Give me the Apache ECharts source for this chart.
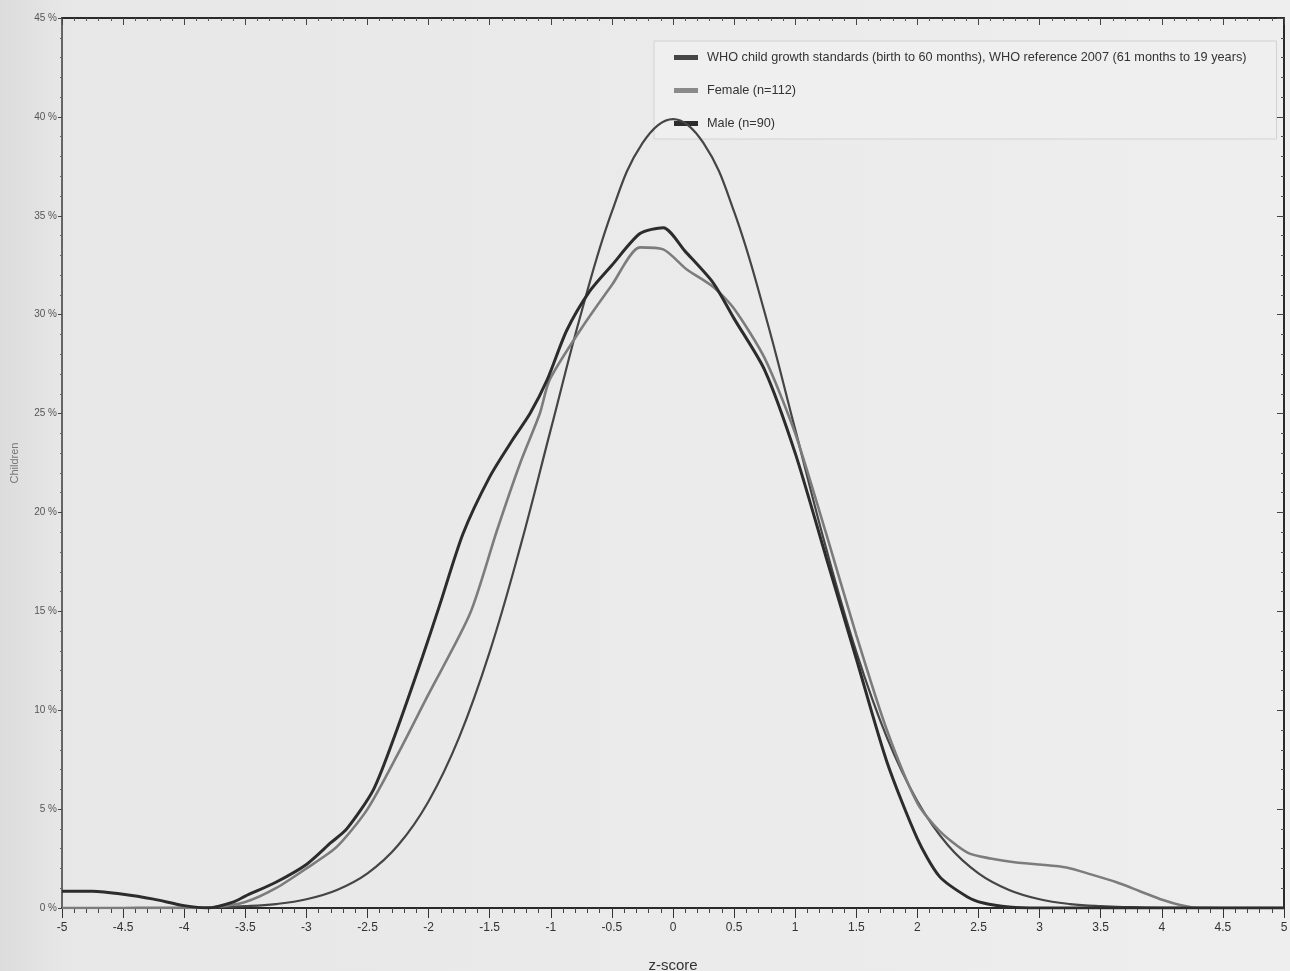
<!DOCTYPE html>
<html>
<head>
<meta charset="utf-8">
<script src="https://cdn.jsdelivr.net/npm/echarts@6/dist/echarts.min.js"></script>
<style>
  html, body { margin: 0; padding: 0; background: #e9e9e9; }
  #chart { width: 1290px; height: 971px; }
</style>
</head>
<body>
<div id="chart"></div>
<script>
// WHO reference curve, z-score -> % of children
const whoZ = [-5, -4.75, -4.5, -4.25, -4, -3.75, -3.5, -3.25, -3, -2.75, -2.5, -2.25, -2, -1.75, -1.5, -1.25, -1, -0.75, -0.5, -0.25,
    0, 0.25, 0.5, 0.75, 1, 1.25, 1.5, 1.75, 2, 2.25, 2.5, 2.75, 3, 3.25, 3.5, 3.75, 4, 4.25, 4.5, 4.75, 5]
const whoValues = [0, 0, 0, 0.01, 0.01, 0.04, 0.09, 0.2, 0.44, 0.91, 1.75, 3.17, 5.4, 8.63, 12.95, 18.26, 24.2, 30.11, 35.21, 38.67,
    39.89, 38.67, 35.21, 30.11, 24.2, 18.26, 12.95, 8.63, 5.4, 3.17, 1.75, 0.91, 0.44, 0.2, 0.09, 0.04, 0.01, 0.01, 0, 0, 0]

// Female (n=112)
const femaleZ = [-5, -4, -3.75, -3.5, -3.25, -3, -2.75, -2.5, -2.25, -2.01, -1.66, -1.44, -1.25, -1.09, -1.01, -0.75, -0.5, -0.27, -0.08, 0.11,
    0.33, 0.5, 0.75, 1, 1.25, 1.5, 1.75, 2, 2.18, 2.41, 2.6, 2.81, 3, 3.22, 3.42, 3.63, 3.82, 4.01, 4.15, 4.3, 5]
const femaleValues = [0, 0, 0.05, 0.3, 1.0, 2.0, 3.1, 5.0, 7.8, 10.7, 14.9, 19.1, 22.5, 25.0, 26.7, 29.3, 31.5, 33.4, 33.3, 32.3,
    31.4, 30.3, 27.8, 24.0, 19.0, 13.8, 9.0, 5.3, 3.9, 2.8, 2.5, 2.3, 2.2, 2.05, 1.7, 1.3, 0.85, 0.4, 0.15, 0, 0]

// Male (n=90)
const maleZ = [-5, -4.75, -4.5, -4.25, -4, -3.8, -3.6, -3.5, -3.25, -3, -2.8, -2.67, -2.45, -2.26, -2.05, -1.91, -1.72, -1.5, -1.31, -1.17,
    -1.03, -0.87, -0.68, -0.5, -0.27, -0.08, 0.1, 0.33, 0.5, 0.75, 1, 1.25, 1.5, 1.75, 2, 2.18, 2.41, 2.54, 2.75, 3, 5]
const maleValues = [0.85, 0.85, 0.7, 0.45, 0.12, 0, 0.3, 0.6, 1.3, 2.2, 3.3, 4.0, 6.0, 9.0, 12.7, 15.3, 18.9, 21.8, 23.7, 25.0,
    26.7, 29.2, 31.2, 32.5, 34.1, 34.4, 33.2, 31.6, 29.8, 27.2, 23.0, 17.8, 12.6, 7.4, 3.5, 1.6, 0.56, 0.25, 0.05, 0, 0]

const seriesNames = [
    'WHO child growth standards (birth to 60 months), WHO reference 2007 (61 months to 19 years)',
    'Female (n=112)',
    'Male (n=90)'
]

function pairs (xs, ys) {
    return xs.map((x, i) => [x, ys[i]])
}

const narrow = "'Liberation Sans Narrow', 'Arial Narrow', 'Liberation Sans', Arial, sans-serif"

// top and right edges of the frame: ticks inside, no labels
function frameAxis (position) {
    const horizontal = position === 'top'
    return {
        type: 'value',
        position: position,
        min: horizontal ? -5 : 0,
        max: horizontal ? 5 : 45,
        interval: horizontal ? 0.5 : 5,
        axisLine: { show: true, onZero: false, lineStyle: { color: '#2a2a2a', width: 2 } },
        axisTick: { show: true, inside: true, length: 7, lineStyle: { color: '#444' } },
        minorTick: { show: true, splitNumber: 5, length: 3, lineStyle: { color: '#555' } },
        axisLabel: { show: false },
        splitLine: { show: false }
    }
}

const chart = echarts.init(document.getElementById('chart'))
chart.setOption({
    animation: false,
    backgroundColor: {
        type: 'linear', x: 0, y: 0, x2: 1, y2: 0,
        colorStops: [
            { offset: 0, color: '#dcdcdc' },
            { offset: 0.05, color: '#e7e7e7' },
            { offset: 1, color: '#eeeeee' }
        ]
    },
    grid: { left: 62, right: 6, top: 18, bottom: 63, outerBoundsMode: 'none', containLabel: false },
    legend: {
        orient: 'vertical',
        left: 654,
        top: 41,
        z: 1,
        padding: [10, 30, 9, 20],
        itemGap: 20,
        itemWidth: 24,
        itemHeight: 5,
        icon: 'rect',
        backgroundColor: '#efefef',
        borderColor: '#d2d2d2',
        borderWidth: 1,
        textStyle: { fontFamily: narrow, fontSize: 12.7, color: '#333', padding: [0, 0, 0, 4] },
        data: seriesNames
    },
    xAxis: [
        {
            type: 'value',
            min: -5,
            max: 5,
            interval: 0.5,
            name: 'z-score',
            nameLocation: 'middle',
            nameGap: 50,
            nameTextStyle: { fontFamily: narrow, fontSize: 15, color: '#333' },
            axisLine: { onZero: false, lineStyle: { color: '#2a2a2a', width: 2 } },
            axisTick: { length: 10, lineStyle: { color: '#333' } },
            minorTick: { show: true, splitNumber: 5, length: 5, lineStyle: { color: '#444' } },
            axisLabel: { fontFamily: narrow, fontSize: 12, color: '#333', margin: 14 },
            splitLine: { show: false }
        },
        frameAxis('top')
    ],
    yAxis: [
        {
            type: 'value',
            min: 0,
            max: 45,
            interval: 5,
            name: 'Children',
            nameLocation: 'middle',
            nameGap: 42,
            nameRotate: 90,
            nameTextStyle: { fontFamily: 'Liberation Sans, Arial, sans-serif', fontSize: 11, color: '#777' },
            axisLine: { onZero: false, lineStyle: { color: '#3a3a3a', width: 1.5 } },
            axisTick: { length: 4, lineStyle: { color: '#444' } },
            minorTick: { show: true, splitNumber: 5, length: 2, lineStyle: { color: '#666' } },
            axisLabel: {
                fontFamily: narrow, fontSize: 10, color: '#555', margin: 5,
                formatter: v => v + ' %'
            },
            splitLine: { show: false }
        },
        frameAxis('right')
    ],
    series: [
        {
            name: seriesNames[0],
            type: 'line',
            data: pairs(whoZ, whoValues),
            smooth: 0.4,
            symbol: 'none',
            color: '#454545',
            lineStyle: { width: 2.2, color: '#454545' },
            z: 3
        },
        {
            name: seriesNames[1],
            type: 'line',
            data: pairs(femaleZ, femaleValues),
            smooth: 0.25,
            symbol: 'none',
            color: '#8a8a8a',
            lineStyle: { width: 2.6, color: '#7c7c7c' },
            z: 4
        },
        {
            name: seriesNames[2],
            type: 'line',
            data: pairs(maleZ, maleValues),
            smooth: 0.25,
            symbol: 'none',
            color: '#2c2c2c',
            lineStyle: { width: 3, color: '#2c2c2c' },
            z: 5
        }
    ]
})
</script>
</body>
</html>
